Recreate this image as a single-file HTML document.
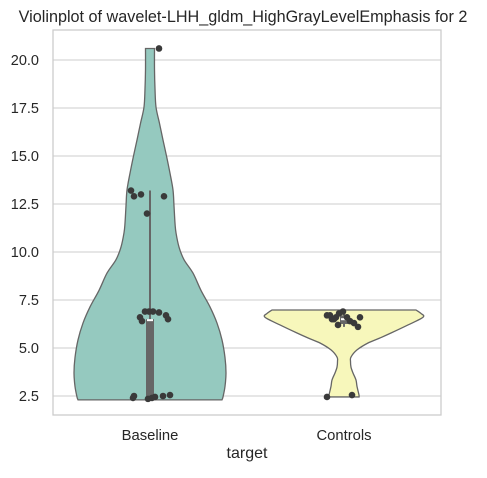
<!DOCTYPE html>
<html><head><meta charset="utf-8"><style>
body{margin:0;background:#fff;font-family:"Liberation Sans",sans-serif}
svg text{font-family:"Liberation Sans",sans-serif;fill:#262626}
</style></head><body>
<svg id="c" width="487" height="473"></svg>
<script>
const categories=["Baseline","Controls"];
const yTicks=[2.5,5.0,7.5,10.0,12.5,15.0,17.5,20.0];
const baseLevels=[2.3,2.45,3.0,3.7,4.5,5.42,6.3,7.14,8.0,8.9,9.6,10.26,11.0,11.5,12.4,13.23,14.1,15.0,15.83,16.7,17.55,18.5,19.5,20.6];
const baseHalf=[72,73,75,76,75,72,67,60,51,43,34,29,26,25,24,23,20,16.5,13,9.5,6,5,4.5,4.5];
const ctrlLevels=[2.45,2.55,3.0,3.33,3.7,4.0,4.3,4.53,4.9,5.26,5.5,5.78,6.2,6.6,6.8,6.98];
const ctrlHalf=[15,15,13,12,9,7,6.5,7,13,24,35,47,64,79,77,72];
const basePts=[13.2,12.9,13.0,12.9,12.0,6.9,6.9,6.85,6.6,6.4,6.7,6.5,6.9,2.4,2.5,2.35,2.4,2.45,2.5,2.55,20.6];
const baseJit=[-19,-16,-9,14,-3,-5,-1,9,-10,-8,16,18,3,-17,-16,-2,2,5,13,20,9];
const ctrlPts=[6.7,6.5,6.6,6.8,6.9,6.6,6.4,6.3,6.7,6.5,6.2,6.1,6.6,2.45,2.55];
const ctrlJit=[-17,-12,-8,-5,-1,3,6,10,-14,-10,-6,14,16,-17,8];
const baseBox=[2.4,6.5,6.45,2.3,13.2];
const ctrlBox=[6.25,6.7,6.5,6.1,6.9];
const colors=["#95c9bf","#f7f7bb"];
const svg=document.getElementById('c');const NS="http://www.w3.org/2000/svg";
const L=53,R=441,T=30,B=415;
function y(v){return 396-(v-2.5)*19.2;}
function x(i){return 150+i*194;}
function el(t,a,p){const e=document.createElementNS(NS,t);for(const k in a)e.setAttribute(k,a[k]);(p||svg).appendChild(e);return e;}
yTicks.forEach(v=>{const g=el('line',{x1:L,x2:R,y1:y(v),y2:y(v),stroke:'#cccccc','stroke-width':1});


const t=el('text',{x:L-14,y:y(v)+5,'text-anchor':'end','font-size':14.5});t.textContent=v.toFixed(1);

});
function smooth(pts){let d='M'+pts[0][0]+','+pts[0][1];
 for(let i=0;i<pts.length-1;i++){const p0=pts[Math.max(0,i-1)],p1=pts[i],p2=pts[i+1],p3=pts[Math.min(pts.length-1,i+2)];
 const c1=[p1[0]+(p2[0]-p0[0])/6,p1[1]+(p2[1]-p0[1])/6],c2=[p2[0]-(p3[0]-p1[0])/6,p2[1]-(p3[1]-p1[1])/6];
 d+='C'+c1[0]+','+c1[1]+' '+c2[0]+','+c2[1]+' '+p2[0]+','+p2[1];}
 return d;}
function violin(i,lv,hw,col,name){
 const cx=x(i);
 const right=lv.map((v,k)=>[cx+hw[k],y(v)]);
 const left=lv.map((v,k)=>[cx-hw[k],y(v)]).reverse();
 let d=smooth(right);
 d+='L'+(cx-hw[lv.length-1])+','+y(lv[lv.length-1]);
 d+=smooth(left).replace(/^M[^C]*/,'');
 d+='Z';
 const p=el('path',{d:d,fill:col,stroke:'#666','stroke-width':1.3});
 
 
}
function box(i,b,name){const cx=x(i);
 const w=el('line',{x1:cx,x2:cx,y1:y(b[3]),y2:y(b[4]),stroke:'#666','stroke-width':2});
 
 
 const r=el('rect',{x:cx-4,y:y(b[1]),width:8,height:y(b[0])-y(b[1]),fill:'#666'});
 
 
 const m=el('line',{x1:cx-3,x2:cx+3,y1:y(b[2]),y2:y(b[2]),stroke:'#fff','stroke-width':2});
 
 }
function pts(i,arr,jit,name){arr.forEach((v,k)=>{const c=el('circle',{cx:x(i)+jit[k],cy:y(v),r:3.3,fill:'#3a3a3a'});
 
 });}
violin(0,baseLevels,baseHalf,colors[0],'violin-baseline');
violin(1,ctrlLevels,ctrlHalf,colors[1],'violin-controls');
box(0,baseBox,'baseline');box(1,ctrlBox,'controls');
pts(0,basePts,baseJit,'baseline');pts(1,ctrlPts,ctrlJit,'controls');
const fr=el('rect',{x:L,y:T,width:R-L,height:B-T,fill:'none',stroke:'#cccccc','stroke-width':1.3});


categories.forEach((c,i)=>{const t=el('text',{x:x(i),y:440,'text-anchor':'middle','font-size':14.8});t.textContent=c;

});
const xt=el('text',{x:247,y:458,'text-anchor':'middle','font-size':16});xt.textContent='target';


const tt=el('text',{x:243,y:22,'text-anchor':'middle','font-size':16.2});tt.textContent='Violinplot of wavelet-LHH_gldm_HighGrayLevelEmphasis for 2';


</script>
</body></html>
